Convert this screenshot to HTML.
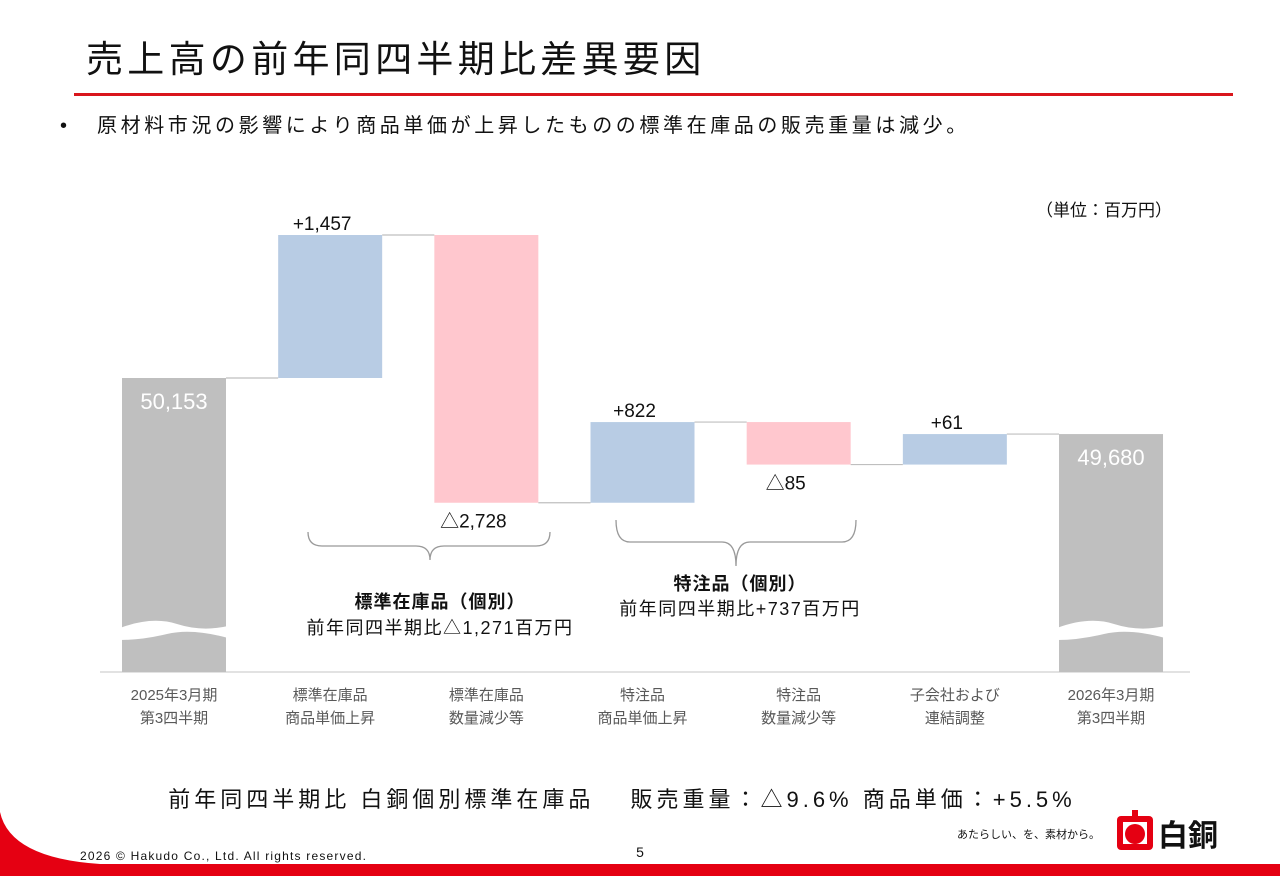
<!DOCTYPE html>
<html><head><meta charset="utf-8">
<style>
body{margin:0;width:1280px;height:886px;background:#fff;overflow:hidden;font-family:"Liberation Sans","Noto Sans CJK JP",sans-serif;}
svg text{font-family:"Liberation Sans","Noto Sans CJK JP",sans-serif;}
</style></head><body>
<svg width="1280" height="886">
<text x="86" y="72" font-size="37" letter-spacing="4.3" fill="#111">売上高の前年同四半期比差異要因</text>
<rect x="74" y="93" width="1159" height="3" fill="#d9161c"/>
<text x="60" y="132" font-size="20" fill="#111">•</text>
<text x="97" y="132" font-size="20" letter-spacing="3.6" fill="#111">原材料市況の影響により商品単価が上昇したものの標準在庫品の販売重量は減少。</text>
<text x="1172" y="216" font-size="17" text-anchor="end" fill="#111">（単位：百万円）</text>
<g id="chart"></g>
<path d="M308,532 Q308,546 322,546 L416,546 Q430,546 430,560 Q430,546 444,546 L536,546 Q550,546 550,532" fill="none" stroke="#999" stroke-width="1.3"/>
<path d="M616,520 Q616,542 630,542 L722,542 Q736,542 736,566 Q736,542 750,542 L842,542 Q856,542 856,520" fill="none" stroke="#999" stroke-width="1.3"/>
<text x="440" y="608" font-size="18" font-weight="bold" letter-spacing="1" text-anchor="middle" fill="#111">標準在庫品（個別）</text>
<text x="440" y="634" font-size="18" letter-spacing="1.5" text-anchor="middle" fill="#111">前年同四半期比△1,271百万円</text>
<text x="740" y="590" font-size="18" font-weight="bold" letter-spacing="1" text-anchor="middle" fill="#111">特注品（個別）</text>
<text x="740" y="615" font-size="18" letter-spacing="1.5" text-anchor="middle" fill="#111">前年同四半期比+737百万円</text>
<text x="622" y="807" font-size="22" letter-spacing="4" text-anchor="middle" fill="#111">前年同四半期比  白銅個別標準在庫品　 販売重量：△9.6%  商品単価：+5.5%</text>
<path d="M0,812 Q10,858 100,864 L1280,864 L1280,876 L0,876 Z" fill="#e50012"/>
<text x="80" y="860" font-size="12" letter-spacing="1.2" fill="#111">2026 © Hakudo Co., Ltd. All rights reserved.</text>
<text x="640" y="857" font-size="14" text-anchor="middle" fill="#111">5</text>
<text x="1100" y="838" font-size="11" text-anchor="end" fill="#111">あたらしい、を、素材から。</text>
<g>
<rect x="1117" y="816" width="36" height="34" rx="4" fill="#e50012"/>
<rect x="1132" y="810" width="6" height="10" fill="#e50012"/>
<rect x="1123" y="822" width="24" height="22" fill="#fff"/>
<circle cx="1135" cy="834" r="10" fill="#e50012"/>
<text x="1158" y="846" font-size="30" font-weight="bold" fill="#111">白銅</text>
</g>
</svg>
<script>
const categories=["2025年3月期|第3四半期","標準在庫品|商品単価上昇","標準在庫品|数量減少等","特注品|商品単価上昇","特注品|数量減少等","子会社および|連結調整","2026年3月期|第3四半期"];
const deltas=[50153,1457,-2728,822,-85,61,49680];
const labels=["50,153","+1,457","△2,728","+822","△85","+61","49,680"];
const kinds=["total","up","down","up","down","up","total"];
const NS="http://www.w3.org/2000/svg";
const g=document.getElementById('chart');
const K=0.09815;
function y(v){return 378-(v-50153)*K;}
// display height of a delta bar (small deltas are emphasized, as in the original slide)
function h(d){const a=Math.abs(d);return a<500?a*0.5:a*K;}
function x(i){return 122+i*156.17;}
const W=104, base=672;
function el(t,a){const e=document.createElementNS(NS,t);for(const k in a)e.setAttribute(k,a[k]);g.appendChild(e);return e;}
const ax=el('line',{x1:100,x2:1190,y1:base,y2:base,stroke:'#d9d9d9','stroke-width':1.5});


let py=0, prevPy=0;
for(let i=0;i<deltas.length;i++){
  let top,bot;
  if(kinds[i]==='total'){if(i===0)py=y(deltas[i]);top=py;bot=base;}
  else{const np=deltas[i]>0?py-h(deltas[i]):py+h(deltas[i]);top=Math.min(py,np);bot=Math.max(py,np);py=np;}
  const fill=kinds[i]==='total'?'#bfbfbf':kinds[i]==='up'?'#b8cce4':'#ffc7ce';
  const r=el('rect',{x:x(i),y:top,width:W,height:bot-top,fill:fill});
  
  
  if(i>0){
    const c=el('line',{x1:x(i-1)+W,x2:x(i),y1:prevPy,y2:prevPy,stroke:'#bfbfbf','stroke-width':1.2});
    
    
  }
  prevPy=py;
  if(kinds[i]==='total'){
    const w=el('path',{d:`M${x(i)-2},628 Q${x(i)+30},616 ${x(i)+55},624 T${x(i)+W+2},626 L${x(i)+W+2},638 Q${x(i)+70},628 ${x(i)+45},634 T${x(i)-2},640 Z`,fill:'#fff'});
    
    
  }
  let t;
  if(kinds[i]==='total') t=el('text',{x:x(i)+W/2,y:top+31,'font-size':22,'text-anchor':'middle',fill:'#fff'});
  else if(kinds[i]==='up') t=el('text',{x:x(i)+W/2-8,y:top-5,'font-size':19,'text-anchor':'middle',fill:'#111'});
  else t=el('text',{x:x(i)+W/2-13,y:bot+25,'font-size':19,'text-anchor':'middle',fill:'#111'});
  t.textContent=labels[i];
  
  
  const parts=categories[i].split('|');
  parts.forEach((p,j)=>{
    const ct=el('text',{x:x(i)+W/2,y:700+j*23,'font-size':15,'text-anchor':'middle',fill:'#595959'});
    ct.textContent=p;
    
    
  });
}
</script>
</body></html>
